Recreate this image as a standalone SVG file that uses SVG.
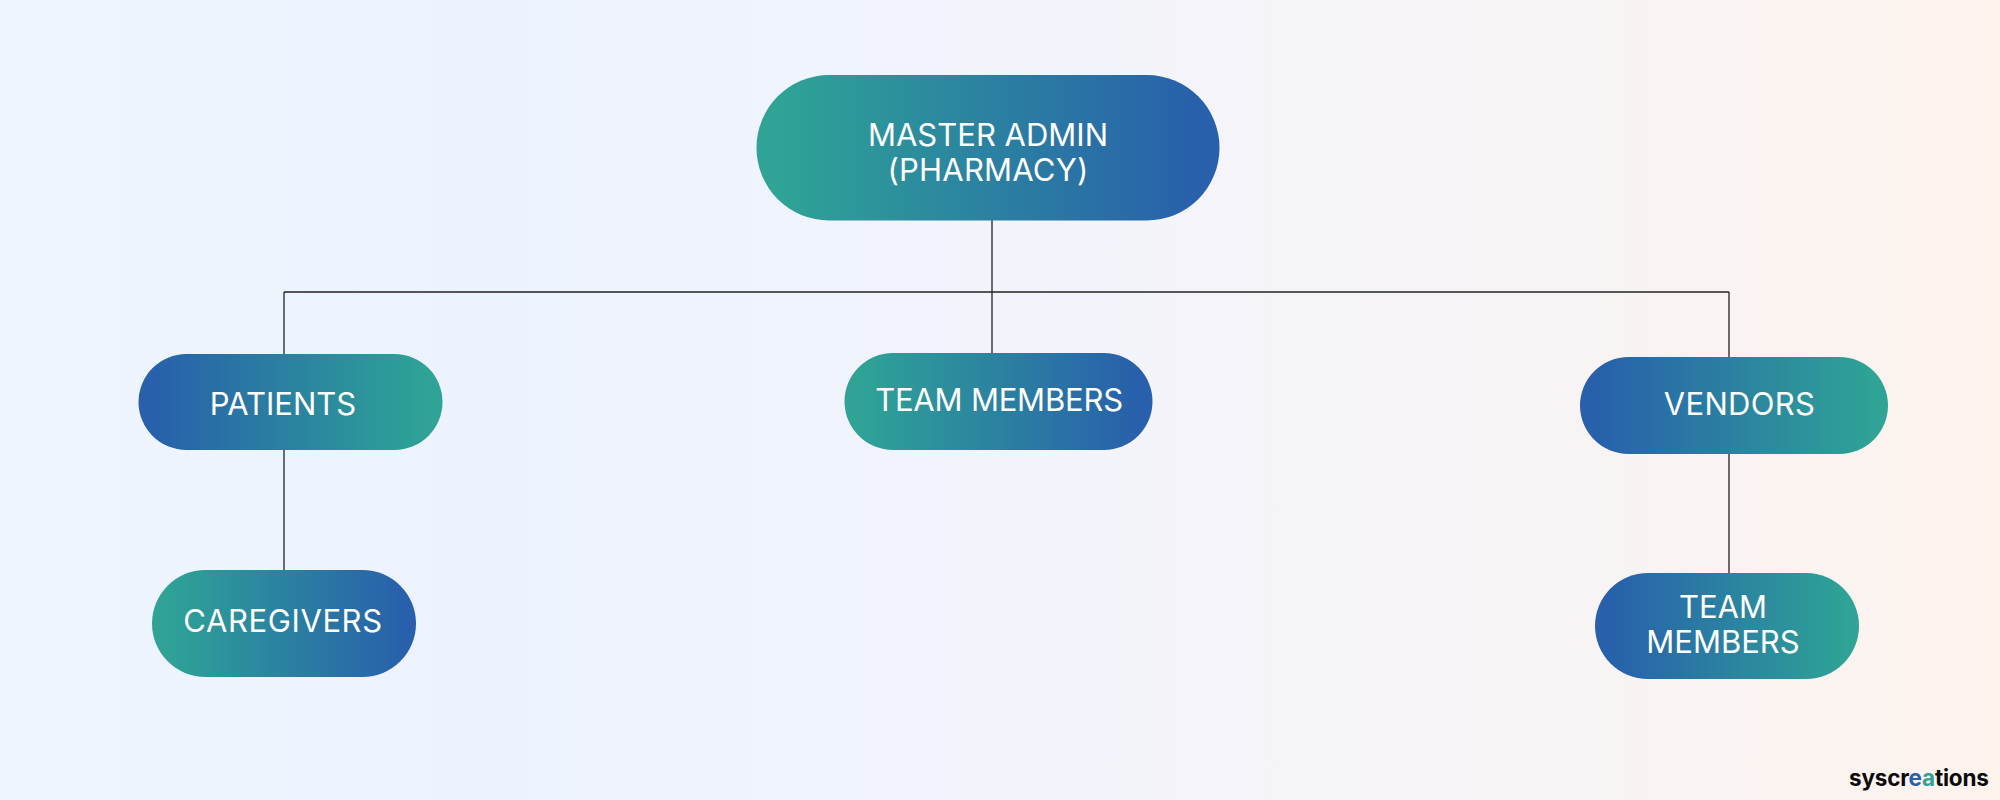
<svg xmlns="http://www.w3.org/2000/svg" width="2000" height="800" viewBox="0 0 2000 800">
<style>
.t{font-family:"Inter","Liberation Sans",sans-serif;font-size:31px;font-weight:400;fill:#fff;text-anchor:middle;letter-spacing:0}
.c{fill:none;stroke:#222;stroke-width:1.3}
.l{font-family:"Inter","Liberation Sans",sans-serif;font-size:22.500px;font-weight:700;fill:#0b0b0b;letter-spacing:-.2px}
</style>
<defs>
<linearGradient id="bg" x1="0" y1="0" x2="1" y2="0"><stop offset="0" stop-color="#eff5fe"/><stop offset=".25" stop-color="#edf3fe"/><stop offset=".5" stop-color="#f2f4fc"/><stop offset=".75" stop-color="#f7f4f6"/><stop offset="1" stop-color="#fdf3ed"/></linearGradient>
<linearGradient id="gb"><stop offset=".05" stop-color="#2ea396"/><stop offset=".95" stop-color="#2860ab"/></linearGradient>
<linearGradient id="bgr"><stop offset=".05" stop-color="#2860ab"/><stop offset=".95" stop-color="#2ea396"/></linearGradient>
</defs>
<rect width="2000" height="800" fill="url(#bg)"/>
<g id="connectors">
<path class="c" d="M992 220V353M284 292H1729M284 292V354M1729 292V357M284 450V570M1729 454V573"/>
</g>
<g id="master"><rect x="756.500" y="75" width="463" height="145.500" rx="72.700" fill="url(#gb)"/><text class="t" x="988" y="146">MASTER ADMIN</text><text class="t" x="988" y="181" style="letter-spacing:.2px">(PHARMACY)</text></g>
<g id="patients"><rect x="138.500" y="354" width="304" height="96" rx="48" fill="url(#bgr)"/><text class="t" x="283" y="415">PATIENTS</text></g>
<g id="team-members-mid"><rect x="844.500" y="353" width="308" height="97" rx="48.500" fill="url(#gb)"/><text class="t" x="999" y="411" style="letter-spacing:-.2px">TEAM MEMBERS</text></g>
<g id="vendors"><rect x="1580" y="357" width="308" height="97" rx="48.500" fill="url(#bgr)"/><text class="t" x="1739.500" y="415" style="letter-spacing:.3px">VENDORS</text></g>
<g id="caregivers"><rect x="152" y="570" width="264" height="107" rx="53.500" fill="url(#gb)"/><text class="t" x="283" y="632" style="letter-spacing:.6px">CAREGIVERS</text></g>
<g id="team-members-right"><rect x="1595" y="573" width="264" height="106" rx="53" fill="url(#bgr)"/><text class="t" x="1723" y="618">TEAM</text><text class="t" x="1723" y="653">MEMBERS</text></g>
<g id="logo"><text class="l" x="1849" y="786">syscr<tspan fill="#2860ab">e</tspan><tspan fill="#2ea396">a</tspan>tions</text></g>
</svg>
